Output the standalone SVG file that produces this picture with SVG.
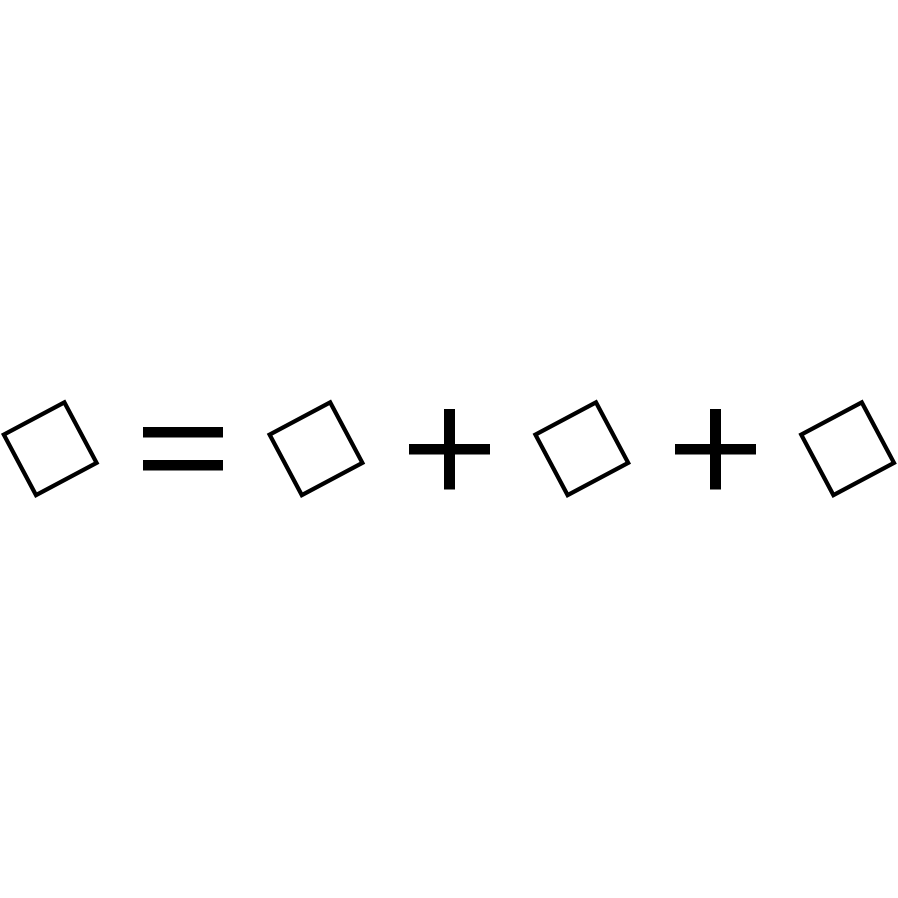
<svg xmlns="http://www.w3.org/2000/svg" width="898" height="898" viewBox="0 0 898 898">
<style>
.sq{fill:none;stroke:#000;stroke-width:4.2;stroke-linejoin:miter}
.bar{fill:#000}
</style>
<defs>
<rect id="box" class="sq" x="-34.3" y="-34.3" width="68.6" height="68.6"/>
</defs>
<rect width="898" height="898" fill="#fff"/>
<g id="square1" transform="translate(50.2,448.7) rotate(-28)"><use href="#box"/></g>
<g id="equals">
<rect class="bar" x="143" y="427" width="80" height="10.5"/>
<rect class="bar" x="143" y="460" width="80" height="10.5"/>
</g>
<g id="square2" transform="translate(316,448.7) rotate(-28)"><use href="#box"/></g>
<g id="plus1">
<rect class="bar" x="409" y="444" width="81" height="10.5"/>
<rect class="bar" x="444" y="409" width="11" height="80.5"/>
</g>
<g id="square3" transform="translate(581.8,448.7) rotate(-28)"><use href="#box"/></g>
<g id="plus2">
<rect class="bar" x="675" y="444" width="81" height="10.5"/>
<rect class="bar" x="710" y="409" width="11" height="80.5"/>
</g>
<g id="square4" transform="translate(847.6,448.7) rotate(-28)"><use href="#box"/></g>
</svg>
